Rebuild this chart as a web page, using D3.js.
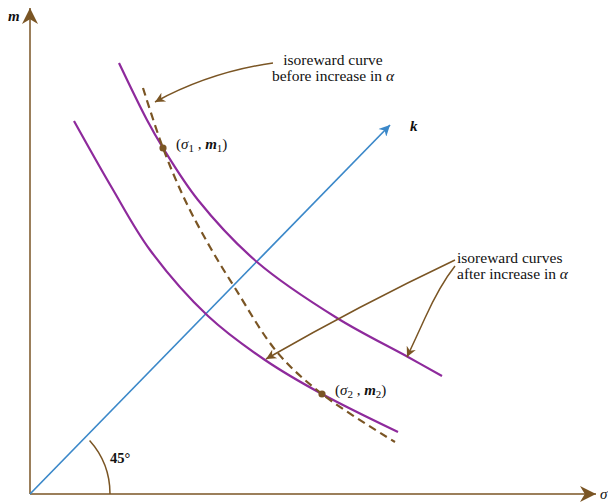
<!DOCTYPE html>
<html><head><meta charset="utf-8">
<script src="https://cdn.jsdelivr.net/npm/d3@7"></script>
<style>body{margin:0;background:#fff}svg{display:block}text{font-family:"Liberation Serif","DejaVu Serif",serif;fill:#111}</style>
</head><body><svg width="608" height="502"></svg>
<script>
// data (sigma, m) in chart units
const upperCurve = [[89,431],[117,374],[133,346],[168,294],[227,232],[307,176],[378,137],[412,118]];
const lowerCurve = [[44,373],[82,306],[120,244],[178,178],[235,134],[292,100],[368,62]];
const dashedCurve = [[113,406],[133,346],[155,294],[180,247],[205,206],[247,142],[292,100],[365,52]];
const kLine = [[0,0],[360,369]];
const points = [{x:133,y:346,label:["σ","1","m","1"]},{x:292,y:100,label:["σ","2","m","2"]}];

const brown = "#7a5524", purple = "#8e2a9c", blue = "#3b88c9";
const svg = d3.select("svg");
const x = d3.scaleLinear().domain([0,566]).range([30,596]);
const y = d3.scaleLinear().domain([0,486]).range([494,8]);

const defs = svg.append("defs");
function marker(id, w, h){
  defs.append("marker").attr("id",id).attr("viewBox","0 0 10 10").attr("refX",10).attr("refY",5)
    .attr("markerWidth",w).attr("markerHeight",h).attr("orient","auto").attr("markerUnits","userSpaceOnUse")
    .append("path").attr("d","M0,0 L10,5 L0,10 L3,5 Z").attr("fill", id==="k"?blue:brown);
}
marker("ax",26,16); marker("ar",14,10); marker("k",16,11);

// 45° arc
const r = 80;
svg.append("path").attr("d", `M${x(0)+r},${y(0)} A${r},${r} 0 0 0 ${x(0)+r*Math.cos(Math.PI/4.3)},${y(0)-r*Math.sin(Math.PI/4.3)}`)
  .attr("fill","none").attr("stroke",brown).attr("stroke-width",1.5);

// axes
svg.append("line").attr("x1",x(0)).attr("y1",y(0)).attr("x2",x(0)).attr("y2",y(486)).attr("stroke",brown).attr("stroke-width",1.5).attr("marker-end","url(#ax)");
svg.append("line").attr("x1",x(0)).attr("y1",y(0)).attr("x2",x(566)).attr("y2",y(0)).attr("stroke",brown).attr("stroke-width",1.5).attr("marker-end","url(#ax)");

const line = d3.line().x(d=>x(d[0])).y(d=>y(d[1])).curve(d3.curveCatmullRom.alpha(0.5));
const straight = d3.line().x(d=>x(d[0])).y(d=>y(d[1]));
svg.append("path").attr("d",straight(kLine)).attr("fill","none").attr("stroke",blue).attr("stroke-width",1.7).attr("marker-end","url(#k)");
svg.append("path").attr("d",line(upperCurve)).attr("fill","none").attr("stroke",purple).attr("stroke-width",2.2);
svg.append("path").attr("d",line(lowerCurve)).attr("fill","none").attr("stroke",purple).attr("stroke-width",2.2);
svg.append("path").attr("d",line(dashedCurve)).attr("fill","none").attr("stroke",brown).attr("stroke-width",2.2).attr("stroke-dasharray","8,5");

points.forEach(p=>{
  svg.append("circle").attr("cx",x(p.x)).attr("cy",y(p.y)).attr("r",3.6).attr("fill",brown);
  const t = svg.append("text").attr("x",x(p.x)+13).attr("y",y(p.y)+1).attr("font-size",15);
  t.append("tspan").text("(");
  t.append("tspan").attr("font-style","italic").text(p.label[0]);
  t.append("tspan").attr("font-size",11).attr("dy",3).text(p.label[1]);
  t.append("tspan").attr("dy",-3).text(" , ");
  t.append("tspan").attr("font-style","italic").attr("font-weight","bold").text(p.label[2]);
  t.append("tspan").attr("font-size",11).attr("dy",3).text(p.label[3]);
  t.append("tspan").attr("dy",-3).text(")");
});

// labels
svg.append("text").attr("x",8).attr("y",21).attr("font-size",15).attr("font-style","italic").attr("font-weight","bold").text("m");
svg.append("text").attr("x",600).attr("y",499).attr("font-size",15).attr("font-style","italic").text("σ");
svg.append("text").attr("x",410).attr("y",131).attr("font-size",15).attr("font-style","italic").attr("font-weight","bold").text("k");
svg.append("text").attr("x",110).attr("y",463).attr("font-size",14.5).attr("font-weight","bold").text("45°");

function twoLine(xp, yp, l1, l2, anchor){
  const t = svg.append("text").attr("y",yp).attr("font-size",15.5).attr("text-anchor",anchor);
  t.append("tspan").attr("x",xp).text(l1);
  const t2 = t.append("tspan").attr("x",xp).attr("dy",15.5);
  t2.append("tspan").text(l2 + " ");
  t2.append("tspan").attr("font-style","italic").text("α");
}
twoLine(333,65,"isoreward curve","before increase in","middle");
twoLine(457,263,"isoreward curves","after increase in","start");

// annotation arrows
function arrow(d){ svg.append("path").attr("d",d).attr("fill","none").attr("stroke",brown).attr("stroke-width",1.5).attr("marker-end","url(#ar)"); }
arrow("M273,63 Q210,72 155,102");
arrow("M455,260 Q360,305 266,359");
arrow("M455,266 Q440,285 425,318 Q415,340 407,357");
</script></body></html>
